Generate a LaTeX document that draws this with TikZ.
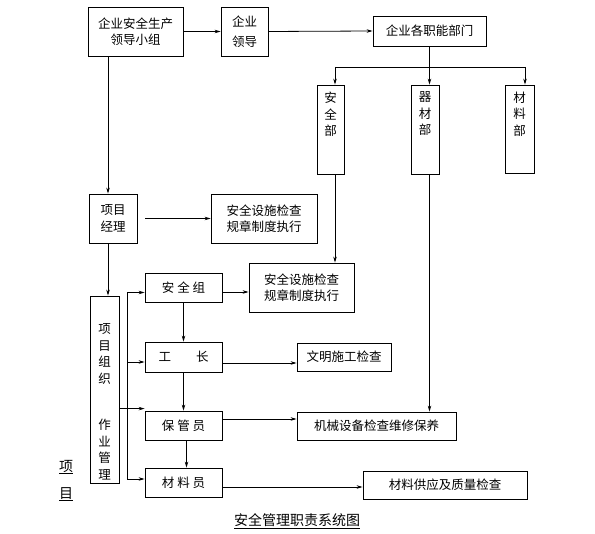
\documentclass[tikz,border=0pt]{standalone}
\usepackage{fontspec}
\newfontfamily\cjk{Noto Sans CJK SC}
\usetikzlibrary{arrows.meta}
\begin{document}
\begin{tikzpicture}[
	x=1pt,y=-1pt,
	font=\cjk\fontsize{12.5pt}{16.5pt}\selectfont,
	line width=0.8pt,
	arr/.style={-{Stealth[length=6pt,width=3.5pt]}},
	bx/.style={draw,align=center,inner sep=0pt},
	vb/.style={draw,inner sep=0pt},
	vtext/.style={anchor=north,align=center,inner sep=0pt},
	]
\useasboundingbox (0,0) rectangle (595,534);
% top level
\node [bx,minimum width=95pt,minimum height=49pt] (grp) at (135.5,31.5) {企业安全生产\\领导小组};
\node [bx,minimum width=47pt,minimum height=49pt] (lead) at (244.5,31.5) {企业\\[4pt]领导};
\node [bx,minimum width=113pt,minimum height=30pt] (dept) at (429.5,31) {企业各职能部门};
\node [vb,minimum width=27pt,minimum height=89pt,label={[vtext,yshift=-7pt]north:安\\全\\部}] (aqb) at (330.5,129.5) {};
\node [vb,minimum width=28pt,minimum height=89pt,label={[vtext,yshift=-7pt]north:器\\材\\部}] (qcb) at (425,129.5) {};
\node [vb,minimum width=29pt,minimum height=88pt,label={[vtext,yshift=-7pt]north:材\\料\\部}] (clb) at (519.5,129) {};
% project level
\node [bx,minimum width=48pt,minimum height=49pt] (pm) at (113,218.5) {项目\\经理};
\node [bx,minimum width=106pt,minimum height=49pt] (chk1) at (264,218.5) {安全设施检查\\规章制度执行};
\node [bx,minimum width=105pt,minimum height=49pt] (chk2) at (301.5,287.5) {安全设施检查\\规章制度执行};
\node [vb,minimum width=29pt,minimum height=187pt,label={[vtext,yshift=-28pt]north:项\\目\\组\\织\\[30pt]作\\业\\管\\理}] (org) at (104.5,389.5) {};
\node [bx,minimum width=77pt,minimum height=29pt] (aqz) at (183.5,287.5) {安\ 全\ 组};
\node [bx,minimum width=77pt,minimum height=30pt] (gz) at (183.5,357) {工\qquad 长};
\node [bx,minimum width=94pt,minimum height=28pt] (wm) at (344,357) {文明施工检查};
\node [bx,minimum width=77pt,minimum height=29pt] (bgy) at (183.5,425.5) {保\ 管\ 员};
\node [bx,minimum width=159pt,minimum height=28pt] (jx) at (376.5,426) {机械设备检查维修保养};
\node [bx,minimum width=77pt,minimum height=29pt] (cly) at (183.5,482.5) {材\ 料\ 员};
\node [bx,minimum width=164pt,minimum height=28pt] (gy) at (445,485) {材料供应及质量检查};
\node [font=\cjk\fontsize{14pt}{27pt}\selectfont,align=center] (xm) at (66,480.5) {\underline{项}\\\underline{目}};
\node [font=\cjk\fontsize{14pt}{17pt}\selectfont] (cap) at (297,521) {\underline{安全管理职责系统图}};
% connectors
\coordinate (trunk) at (108,0);
\coordinate (bus) at (127,0);
\coordinate (fl) at (335,67);
\coordinate (fr) at (525,67);
\draw [arr] (grp.east) -- (lead.west);
\draw [arr] (lead.east) -- (dept.west);
\draw (dept.south) -- (dept.south |- fl);
\draw (fl) -- (fr);
\draw [arr] (fl) -- (fl |- aqb.north);
\draw [arr] (dept.south |- fl) -- (dept.south |- qcb.north);
\draw [arr] (fr) -- (fr |- clb.north);
\draw [arr] (trunk |- grp.south) -- (trunk |- pm.north);
\draw [arr] (trunk |- pm.south) -- (trunk |- org.north);
\draw [arr,shorten <=8pt] (pm.east) -- (chk1.west);
\draw [arr] (fl |- aqb.south) -- (fl |- chk2.north);
\draw [arr] (dept.south |- qcb.south) -- (dept.south |- jx.north);
% bus to the groups
\draw ([yshift=-5pt]bus |- aqz.west) -- ([yshift=3.5pt]bus |- cly.west);
\draw [arr] ([yshift=-5pt]bus |- aqz.west) -- ([yshift=-5pt]aqz.west);
\draw [arr] ([yshift=-5pt]bus |- gz.west) -- ([yshift=-5pt]gz.west);
\draw [arr] ([yshift=3.5pt]bus |- cly.west) -- ([yshift=3.5pt]cly.west);
\draw [arr] ([yshift=2pt]org.east |- bgy.north) -- ([yshift=2pt]bgy.north west);
\draw [arr] ([yshift=-4.5pt]aqz.east) -- ([yshift=-4.5pt]chk2.west);
\draw [arr] ([yshift=-6pt]gz.east) -- ([yshift=-6pt]wm.west);
\draw [arr] ([yshift=6.5pt]bgy.east) -- ([yshift=6.5pt]bgy.east -| jx.west);
\draw [arr] ([yshift=-4.5pt]cly.east) -- ([yshift=-4.5pt]cly.east -| gy.west);
\draw [arr] (aqz) -- (gz);
\draw [arr] (gz) -- (bgy);
\draw [arr] ([xshift=3pt]bgy.south) -- ([xshift=3pt]cly.north);
\end{tikzpicture}
\end{document}
